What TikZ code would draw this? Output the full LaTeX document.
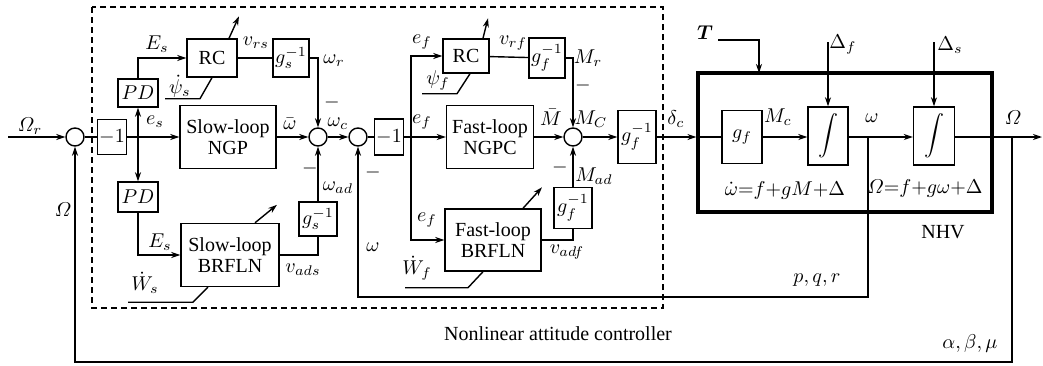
\documentclass[tikz,border=0pt]{standalone}
\usepackage{amsmath}
\usepackage{fontspec}
\setmainfont{Liberation Serif}
\usepackage{tikz}
\usetikzlibrary{arrows.meta,positioning}
\DeclareMathSymbol{\itOmega}{\mathord}{letters}{"0A}

\begin{document}
\begin{tikzpicture}[x=0.5pt,y=-0.5pt,
  line width=0.7pt,
  >={Stealth[length=4.5pt,width=3pt]},
  blk/.style={draw,inner sep=1pt,align=center,font=\fontsize{10}{10.5}\selectfont},
  sumc/.style={draw,circle,minimum size=9pt,inner sep=0pt},
  lbl/.style={inner sep=0pt}]
\useasboundingbox (0,0) rectangle (1043,365);
% Controller frame
\draw[dash pattern=on 3pt off 2pt] (92,7) rectangle (663,308);
% Summing junctions
\node[sumc] (sumA) at (75,137) {};
\node[sumc] (sumB) at (318,137) {};
\node[sumc] (sumC) at (358,137) {};
\node[sumc] (sumD) at (573,137) {};
% Slow loop blocks
\node[blk,minimum width=13pt,minimum height=17.5pt] (negA) at (112,137) {$-1$};
\node[blk,minimum width=20pt,minimum height=14pt] (pdU) at (138,93) {$PD$};
\node[blk,minimum width=20pt,minimum height=15pt] (pdL) at (138,197) {$PD$};
\node[blk,minimum width=25pt,minimum height=19pt] (rcS) at (212,58) {RC};
\node[blk,minimum width=18pt,minimum height=19pt] (gsU) at (291,58) {$g_s^{-1}$};
\node[blk,minimum width=48pt,minimum height=31.5pt] (ngp) at (228,137) {Slow-loop\\NGP};
\node[blk,minimum width=49pt,minimum height=31.5pt] (brS) at (230,255) {Slow-loop\\BRFLN};
\node[blk,minimum width=19pt,minimum height=17pt] (gsL) at (318,219) {$g_s^{-1}$};
% Fast loop blocks
\node[blk,minimum width=13.5pt,minimum height=18pt] (negB) at (389,137) {$-1$};
\node[blk,minimum width=23pt,minimum height=17pt] (rcF) at (466,56) {RC};
\node[blk,minimum width=16.5pt,minimum height=20pt] (gfU) at (547,58) {$g_f^{-1}$};
\node[blk,minimum width=43.5pt,minimum height=31.5pt] (ngpc) at (490,137) {Fast-loop\\NGPC};
\node[blk,minimum width=19pt,minimum height=26.5pt] (gfC) at (637,137) {$g_f^{-1}$};
\node[blk,minimum width=48pt,minimum height=31pt] (brF) at (493,240) {Fast-loop\\BRFLN};
\node[blk,minimum width=19pt,minimum height=20.5pt] (gfL) at (573,208) {$g_f^{-1}$};
% Vehicle
\node[draw,line width=1.6pt,minimum width=147pt,minimum height=69.5pt] (nhv) at (845,142.5) {};
\node[blk,minimum width=20pt,minimum height=26.5pt] (gf) at (742,137) {$g_f$};
\node[blk,minimum width=20pt,minimum height=29pt] (intA) at (828,136) {$\displaystyle\int$};
\node[blk,minimum width=20.5pt,minimum height=29pt] (intB) at (934,136) {$\displaystyle\int$};
% Free ends and taps
\coordinate (inp) at (8,137);
\coordinate (outp) at (1042,137);
\coordinate (brA) at (138,137);
\coordinate (brB) at (411,137);
\coordinate (tapW) at (868,137);
\coordinate (tapO) at (1012,137);
\coordinate (tIn) at (718,40);
\coordinate (tDrop) at (759,73);
\coordinate (dF) at (828,42);
\coordinate (dS) at (934,42);
% Slow loop signals
\draw[->] (inp) -- (sumA);
\draw (sumA) -- (negA);
\draw[->] (negA) -- (ngp);
\draw[->] (brA) -- (pdU);
\draw[->] (brA) -- (pdL);
\draw[->] (pdU) |- (rcS);
\draw (rcS) -- (gsU);
\draw[->] (gsU) -| (sumB);
\draw[->] (ngp) -- (sumB);
\draw[->] (pdL) |- (brS);
\draw (brS) -| (gsL);
\draw[->] (gsL) -- (sumB);
\draw[->] (sumB) -- (sumC);
\draw (sumC) -- (negB);
% Fast loop signals
\draw[->] (negB) -- (ngpc);
\draw[->] (brB) |- (rcF);
\draw[->] (brB) |- (brF);
\draw (rcF) -- (gfU);
\draw[->] (gfU) -| (sumD);
\draw[->] (ngpc) -- (sumD);
\draw (brF) -| (gfL);
\draw[->] (gfL) -- (sumD);
\draw[->] (sumD) -- (gfC);
% Into the vehicle
\draw[->] (gfC) -- (nhv.west |- gfC);
\draw (nhv.west |- gf) -- (gf);
\draw[->] (gf) -- (intA.west |- gf);
\draw[->] (intA.east |- gf) -- (intB.west |- gf);
\draw[->] (intB.east |- gf) -- (outp);
\draw[->] (tIn) -| (tDrop);
\draw[->] (dF) -- (intA);
\draw[->] (dS) -- (intB);
% Feedback
\draw[->] (tapW) -- ++(0,160) -| (sumC);
\draw[->] (tapO) -- ++(0,225) -| (sumA);
% Adaptation arrows and extra inputs
\draw[->] (rcS.north) ++(17,0) -- ++(10,-22);
\draw[->] (rcF.north) ++(17,0) -- ++(5,-20);
\draw[->] (brS.north) ++(25,0) -- ++(22,-18);
\draw[->] (brF.north) ++(30,0) -- ++(19,-21);
\draw (rcS.south) -- ++(-12,21) -- ++(-35,0);
\draw (rcF.south) ++(4,0) -- ++(-13,20) -- ++(-35,0);
\draw (brS.south) ++(-22,0) -- ++(-15,15) -- ++(-65,0);
\draw (brF.south) ++(-10,0) -- ++(-15,16) -- ++(-63,0);
% Labels
\node[lbl] (lOmr) at (30,126) {$\itOmega_r$};
\node[lbl] (les) at (155,122) {$e_s$};
\node[lbl] (lEsU) at (157,44) {$E_s$};
\node[lbl] (lvrs) at (256,43) {$v_{rs}$};
\node[lbl] (lpsis) at (180,86) {$\dot{\psi}_s$};
\node[lbl] (lwr) at (334,61) {$\omega_r$};
\node[lbl] (lmA) at (332,102) {$-$};
\node[lbl] (lwbar) at (290,124) {$\bar{\omega}$};
\node[lbl] (lwc) at (338,124) {$\omega_c$};
\node[lbl] (lmB) at (310,168) {$-$};
\node[lbl] (lwad) at (338,188) {$\omega_{ad}$};
\node[lbl] (lEsL) at (160,242) {$E_s$};
\node[lbl] (lWs) at (145,283) {$\dot{W}_s$};
\node[lbl] (lvads) at (303,270) {$v_{ads}$};
\node[lbl] (lOm) at (63,210) {$\itOmega$};
\node[lbl] (lefA) at (422,42) {$e_f$};
\node[lbl] (lefB) at (422,122) {$e_f$};
\node[lbl] (lefC) at (427,220) {$e_f$};
\node[lbl] (lpsif) at (438,80) {$\psi_f$};
\node[lbl] (lvrf) at (513,43) {$v_{rf}$};
\node[lbl] (lMr) at (588,58) {$M_r$};
\node[lbl] (lmC) at (583,85) {$-$};
\node[lbl] (lMbar) at (551,117) {$\bar{M}$};
\node[lbl] (lMC) at (591,119) {$M_C$};
\node[lbl] (lmD) at (560,167) {$-$};
\node[lbl] (lMad) at (594,176) {$M_{ad}$};
\node[lbl] (lmE) at (373,172) {$-$};
\node[lbl] (lw) at (373,247) {$\omega$};
\node[lbl] (lWf) at (417,268) {$\dot{W}_f$};
\node[lbl] (lvadf) at (567,252) {$v_{adf}$};
\node[lbl] (ldc) at (676,119) {$\delta_c$};
\node[lbl] (lT) at (705,33) {$\boldsymbol{T}$};
\node[lbl] (lDf) at (843,45) {$\Delta_f$};
\node[lbl] (lDs) at (950,45) {$\Delta_s$};
\node[lbl] (lMc) at (778,117) {$M_c$};
\node[lbl] (lwp) at (872,118) {$\omega$};
\node[lbl] (lOmo) at (1013,118) {$\itOmega$};
\node[lbl] (leqA) at (785,190) {$\dot{\omega}{=}f{+}gM{+}\Delta$};
\node[lbl] (leqB) at (925,188) {$\itOmega{=}f{+}g\omega{+}\Delta$};
\node[lbl] (lnhv) at (943,232) {NHV};
\node[lbl] (lpqr) at (817,280) {$p,q,r$};
\node[lbl] (labm) at (970,343) {$\alpha,\beta,\mu$};
\node[lbl] (lnac) at (558,334) {Nonlinear attitude controller};
\end{tikzpicture}
\end{document}
